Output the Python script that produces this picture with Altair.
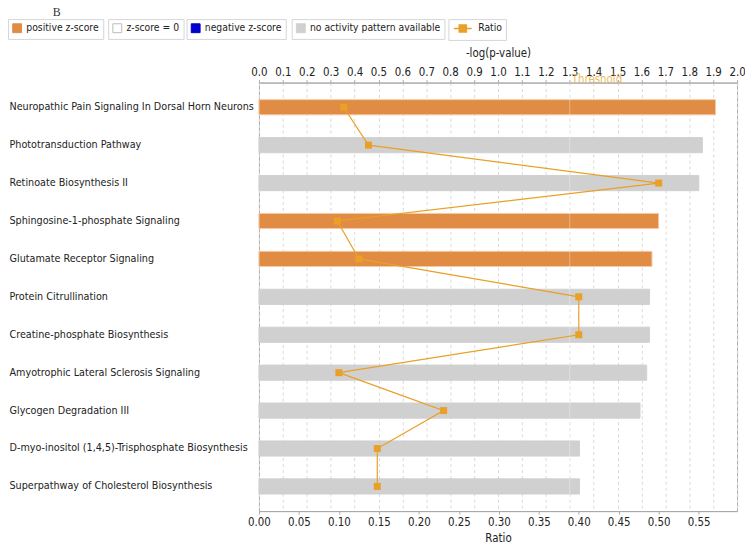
import altair as alt
import pandas as pd

pathways = [
    "Neuropathic Pain Signaling In Dorsal Horn Neurons",
    "Phototransduction Pathway",
    "Retinoate Biosynthesis II",
    "Sphingosine-1-phosphate Signaling",
    "Glutamate Receptor Signaling",
    "Protein Citrullination",
    "Creatine-phosphate Biosynthesis",
    "Amyotrophic Lateral Sclerosis Signaling",
    "Glycogen Degradation III",
    "D-myo-inositol (1,4,5)-Trisphosphate Biosynthesis",
    "Superpathway of Cholesterol Biosynthesis",
]
neg_log_p = [1.91, 1.855, 1.84, 1.672, 1.644, 1.634, 1.634, 1.622, 1.594, 1.341, 1.341]
ratio = [0.106, 0.137, 0.500, 0.098, 0.125, 0.400, 0.400, 0.100, 0.231, 0.148, 0.148]
categories = [
    "positive z-score",
    "no activity pattern available",
    "no activity pattern available",
    "positive z-score",
    "positive z-score",
    "no activity pattern available",
    "no activity pattern available",
    "no activity pattern available",
    "no activity pattern available",
    "no activity pattern available",
    "no activity pattern available",
]
legend_cats = ["positive z-score", "z-score = 0", "negative z-score", "no activity pattern available"]
legend_colors = ["#E08C45", "#FFFFFF", "#0000CC", "#D0D0D0"]
threshold = 1.3
neglogp_ticks = [round(i * 0.1, 1) for i in range(21)]
ratio_ticks = [round(i * 0.05, 2) for i in range(12)]

LINE_COLOR = "#E9A027"
FONT = "DejaVu Sans Condensed"
TXT = "#222222"

df = pd.DataFrame({
    "pathway": pathways,
    "neglogp": neg_log_p,
    "ratio": ratio,
    "cat": categories,
    "idx": list(range(len(pathways))),
    "series": ["Ratio"] * len(pathways),
})


def yenc():
    return alt.Y(
        "pathway:N", sort=pathways, title=None,
        scale=alt.Scale(paddingInner=0.6, paddingOuter=0.45),
        axis=alt.Axis(labelAlign="left", labelPadding=252, ticks=False, domain=False,
                      labelLimit=300, labelFont=FONT, labelFontSize=10.8, labelColor=TXT),
    )


x_scale_p = alt.Scale(domain=[0, 2], nice=False, zero=True)
x_scale_r = alt.Scale(domain=[0, 0.598], nice=False, zero=True)

top_axis = alt.Axis(
    orient="top", values=neglogp_ticks, format=".1f", title="-log(p-value)",
    grid=True, gridDash=[3, 3], gridColor="#d9d9d9", domainColor="#aaaaaa",
    tickColor="#aaaaaa", tickSize=3, labelPadding=2, labelFont=FONT, labelFontSize=11.5,
    labelColor=TXT, titleFont=FONT, titleFontSize=11.5, titleFontWeight="normal",
    titleColor=TXT, titlePadding=8, labelFlush=False,
)
bottom_axis = alt.Axis(
    orient="bottom", values=ratio_ticks, format=".2f", title="Ratio", grid=False,
    domainColor="#aaaaaa", tickColor="#aaaaaa", tickSize=3, labelPadding=3,
    labelFont=FONT, labelFontSize=11.5, labelColor=TXT, titleFont=FONT,
    titleFontSize=11.5, titleFontWeight="normal", titleColor=TXT, titlePadding=4,
    labelFlush=False,
)

legend_x = [-253, -152, -73, 33, 191]
LEG_Y = -64
LEG_FS = 10.4

layers = []
for i, (cat, col) in enumerate(zip(legend_cats, legend_colors)):
    stroke = "#F3CBA5" if cat == "positive z-score" else col
    leg = alt.Legend(
        orient="none", legendX=legend_x[i], legendY=LEG_Y, title=None,
        strokeColor="#d6d6d6", padding=4, symbolType="square", symbolSize=80,
        symbolStrokeColor="#bbbbbb" if cat == "z-score = 0" else col,
        symbolStrokeWidth=1, labelFont=FONT, labelFontSize=LEG_FS, labelColor=TXT,
        labelOffset=4,
    )
    layers.append(
        alt.Chart(df)
        .transform_filter(alt.FieldEqualPredicate(field="cat", equal=cat))
        .mark_bar(stroke=stroke, strokeWidth=1)
        .encode(
            x=alt.X("neglogp:Q", scale=x_scale_p, axis=top_axis if i == 0 else None),
            y=yenc(),
            color=alt.Color("cat:N", scale=alt.Scale(domain=[cat], range=[col]), legend=leg),
        )
    )

thr_df = pd.DataFrame({"t": [threshold], "label": ["Threshold"]})
rule = alt.Chart(thr_df).mark_rule(color="#FFFFFF", strokeWidth=1, opacity=0.35).encode(
    x=alt.X("t:Q", scale=x_scale_p, axis=None)
)
thr_text = alt.Chart(thr_df).mark_text(
    align="left", baseline="bottom", dx=2, dy=0, color="#E9B556", font=FONT, fontSize=11.5, opacity=0.9
).encode(x=alt.X("t:Q", scale=x_scale_p, axis=None), y=alt.value(2), text="label:N")

line = alt.Chart(df).mark_line(color=LINE_COLOR, strokeWidth=1.2).encode(
    x=alt.X("ratio:Q", scale=x_scale_r, axis=bottom_axis),
    y=yenc(),
    order="idx:Q",
)
points = alt.Chart(df).mark_square(size=50, filled=True, opacity=1).encode(
    x=alt.X("ratio:Q", scale=x_scale_r, axis=None),
    y=yenc(),
    color=alt.Color(
        "series:N", scale=alt.Scale(domain=["Ratio"], range=[LINE_COLOR]),
        legend=alt.Legend(
            orient="none", legendX=191, legendY=LEG_Y, title=None, strokeColor="#d6d6d6",
            padding=4, symbolType="M-2,0H2M-0.8,-0.8H0.8V0.8H-0.8Z", symbolSize=80,
            symbolStrokeColor=LINE_COLOR, symbolFillColor=LINE_COLOR, symbolStrokeWidth=1.5,
            symbolOffset=5, labelOffset=10,
            labelFont=FONT, labelFontSize=LEG_FS, labelColor=TXT,
        ),
    ),
)

b_df = pd.DataFrame({"t": ["B"]})
b_text = alt.Chart(b_df).mark_text(
    font="Liberation Serif", fontSize=12, color="#333333", baseline="bottom"
).encode(text="t:N", x=alt.value(-204), y=alt.value(-64))

chart = (
    alt.layer(*layers, rule, line, points, thr_text, b_text)
    .resolve_scale(x="independent", color="independent")
    .resolve_legend(color="independent")
    .properties(
        width=482, height=432,
        autosize=alt.AutoSizeParams(type="none"),
        padding={"left": 253, "top": 73, "right": 8, "bottom": 33},
    )
    .configure_view(stroke="#aaaaaa", strokeWidth=1)
)

chart.save("out.html", embed_options={"renderer": "svg", "actions": False})
